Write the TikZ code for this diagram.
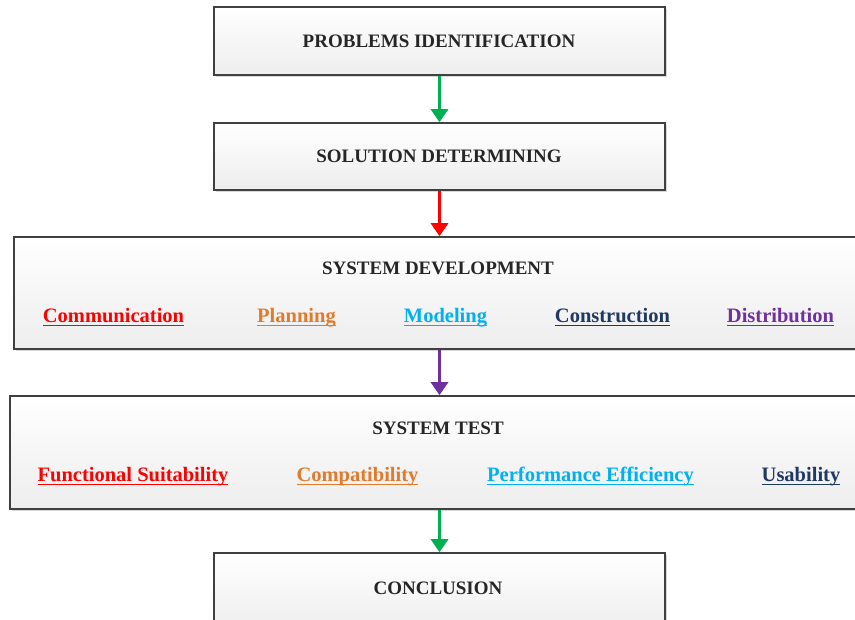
\documentclass[tikz,border=0pt]{standalone}
\usepackage{fontspec}
\setmainfont{Liberation Serif}
\newcommand{\myuline}[1]{{\setbox0\hbox{#1}\rlap{\rule[-3.5pt]{\wd0}{1.6pt}}\box0}}
\usetikzlibrary{arrows.meta,shadows}
\definecolor{cRed}{HTML}{FF0000}
\definecolor{cOrange}{HTML}{E07B2E}
\definecolor{cBlue}{HTML}{00B0F0}
\definecolor{cNavy}{HTML}{1F3864}
\definecolor{cPurple}{HTML}{7030A0}
\definecolor{cGreen}{HTML}{00B050}
\definecolor{cBorder}{HTML}{404040}
\tikzset{
  stagebox/.style={draw=cBorder, line width=1.6pt, rectangle, inner sep=0pt,
    top color=white, bottom color=black!7,
    drop shadow={shadow xshift=2pt, shadow yshift=-2pt, opacity=0.25, fill=black!60}},
  titletext/.style={font=\bfseries\fontsize{19}{21}\selectfont, text=black!85, inner sep=0pt},
  itemtext/.style={font=\bfseries\fontsize{20.5}{23}\selectfont, inner sep=0pt},
  flowarrow/.style={line width=3pt, -{Triangle[length=13pt,width=17pt]}}
}
\begin{document}
\begin{tikzpicture}[x=1pt,y=-1pt]
\clip (0,0) rectangle (855,620);
\fill[white] (0,0) rectangle (855,620);
% boxes
\node[stagebox, minimum width=451pt, minimum height=68pt] (b1) at (439.5,41) {};
\node[stagebox, minimum width=451pt, minimum height=67pt] (b2) at (439.5,156.5) {};
\node[stagebox, minimum width=856pt, minimum height=112pt] (b3) at (442,293) {};
\node[stagebox, minimum width=860pt, minimum height=113pt] (b4) at (440,452.5) {};
\node[stagebox, minimum width=451pt, minimum height=80pt] (b5) at (439.5,593) {};
% titles
\node[titletext] (t1) at (439,41) {PROBLEMS IDENTIFICATION};
\node[titletext] (t2) at (439,156) {SOLUTION DETERMINING};
\node[titletext] (t3) at (438,268) {SYSTEM DEVELOPMENT};
\node[titletext] (t4) at (438,428) {SYSTEM TEST};
\node[titletext] (t5) at (438,588) {CONCLUSION};
% system development items
\node[itemtext, text=cRed, anchor=base] (d1) at (113.5,323) {\myuline{Communication}};
\node[itemtext, text=cOrange, anchor=base] (d2) at (296.5,323) {\myuline{Planning}};
\node[itemtext, text=cBlue, anchor=base] (d3) at (445.5,323) {\myuline{Modeling}};
\node[itemtext, text=cNavy, anchor=base] (d4) at (612.5,323) {\myuline{Construction}};
\node[itemtext, text=cPurple, anchor=base] (d5) at (780.5,323) {\myuline{Distribution}};
% system test items
\node[itemtext, text=cRed, anchor=base] (s1) at (133,482) {\myuline{Functional Suitability}};
\node[itemtext, text=cOrange, anchor=base] (s2) at (357.5,482) {\myuline{Compatibility}};
\node[itemtext, text=cBlue, anchor=base] (s3) at (590.5,482) {\myuline{Performance Efficiency}};
\node[itemtext, text=cNavy, anchor=base] (s4) at (801,482) {\myuline{Usability}};
% arrows
\draw[flowarrow, cGreen] (b1.south) -- (b2.north);
\draw[flowarrow, cRed] (b2.south) -- (b2.south |- b3.north);
\draw[flowarrow, cPurple] (b2.south |- b3.south) -- (b2.south |- b4.north);
\draw[flowarrow, cGreen] (b2.south |- b4.south) -- (b5.north);
\end{tikzpicture}
\end{document}
